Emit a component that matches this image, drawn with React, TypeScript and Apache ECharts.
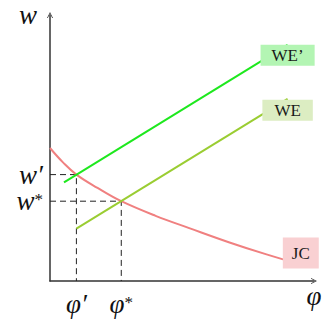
import React, { useEffect, useRef } from "react";
import * as echarts from "echarts";

// Equilibrium points
const phiPrime = 1.0;
const phiStar = 2.7;
const wPrime = 4.0;
const wStar = 3.0;

// Job creation curve (decreasing, convex)
const jcCurve: [number, number][] = [
  [0, 5.0], [0.5, 4.45], [1.0, 4.0], [1.8, 3.5], [2.7, 3.0],
  [4.0, 2.45], [5.3, 1.98], [6.8, 1.45], [8.2, 1.0], [9.5, 0.62],
];
// Wage equation lines
const wePrimeLine: [number, number][] = [[0.53, 3.71], [9.0, 8.88]];
const weLine: [number, number][] = [[1.0, 1.97], [9.0, 6.85]];

const xTickValues = [phiPrime, phiStar];
const yTickLabels = ["{m|w′}", "{m|w}{s|*}"];

const SERIF = "Liberation Serif";
const arrowPath = "path://M0,10 L5,0 L10,10 L8.6,10 L5,2.6 L1.4,10 Z";

const tickRich = {
  m: { fontFamily: SERIF, fontStyle: "italic", fontSize: 27, lineHeight: 20, color: "#111" },
  s: { fontFamily: SERIF, fontSize: 17, color: "#111", verticalAlign: "top", lineHeight: 14 },
};

function endLabel(text: string, bg: string, position: string, distance: number, padding: number[]) {
  return {
    show: true,
    formatter: text,
    position,
    distance,
    backgroundColor: bg,
    padding,
    color: "#1a1a1a",
    fontFamily: SERIF,
    fontSize: 17,
    lineHeight: 15,
  };
}

// Dashed guide from the w-axis to the intersection and down to the φ-axis,
// with the w-level named at its left end
function guide(phi: number, w: number, name: string) {
  return {
    type: "line",
    name,
    data: [
      {
        value: [0, w],
        label: { show: true, position: "left", distance: 7, formatter: name, rich: tickRich },
      },
      { value: [phi, w] },
      { value: [phi, 0] },
    ],
    showSymbol: true,
    symbol: "circle",
    symbolSize: 0,
    lineStyle: { color: "#222", width: 1, type: [6, 4] },
    silent: true,
  };
}

export default function App() {
  const ref = useRef<HTMLDivElement>(null);

  useEffect(() => {
    if (!ref.current) return;
    const chart = echarts.init(ref.current, null, { renderer: "svg" });
    const last = (arr: [number, number][]) => arr.length - 1;

    const withLabel = (arr: [number, number][], label: any) =>
      arr.map((p, i) => (i === last(arr) ? { value: p, label } : { value: p }));

    chart.setOption({
      animation: false,
      backgroundColor: "#fff",
      grid: { left: 50, right: 10, top: 15, bottom: 39 },
      xAxis: {
        type: "value",
        min: 0,
        max: 10,
        splitLine: { show: false },
        axisTick: { show: false },
        axisLine: {
          show: true,
          lineStyle: { color: "#333", width: 1.5 },
          symbol: ["none", arrowPath],
          symbolSize: [10, 6],
        },
        axisLabel: {
          customValues: xTickValues,
          hideOverlap: false,
          margin: 13,
          formatter: (v: number) => (Math.abs(v - phiPrime) < 1e-6 ? "{m|φ′}" : "{m|φ}{s|*}"),
          rich: tickRich,
        },
      },
      yAxis: {
        type: "value",
        min: 0,
        max: 10,
        splitLine: { show: false },
        axisTick: { show: false },
        axisLabel: { show: false },
        axisLine: {
          show: true,
          lineStyle: { color: "#333", width: 1.5 },
          symbol: ["none", arrowPath],
          symbolSize: [10, 6],
        },
      },
      graphic: [
        {
          type: "text",
          x: 28,
          y: 1,
          style: {
            text: "w",
            font: `italic 27px "${SERIF}"`,
            fill: "#111",
            textAlign: "center",
            textVerticalAlign: "top",
          },
        },
        {
          type: "text",
          x: 314,
          y: 282,
          style: {
            text: "φ",
            font: `italic 27px "${SERIF}"`,
            fill: "#111",
            textAlign: "center",
            textVerticalAlign: "top",
          },
        },
      ],
      series: [
        guide(phiPrime, wPrime, yTickLabels[0]),
        guide(phiStar, wStar, yTickLabels[1]),
        {
          type: "line",
          name: "JC",
          smooth: 0.4,
          data: withLabel(jcCurve, endLabel("JC", "#f9d0d2", "top", -4, [8, 9, 8, 9])),
          showSymbol: true,
          symbol: "circle",
          symbolSize: 0,
          lineStyle: { color: "#f08080", width: 2 },
        },
        {
          type: "line",
          name: "WE",
          data: withLabel(weLine, endLabel("WE", "#dcedc2", "bottom", 1, [3, 12, 3, 12])),
          showSymbol: true,
          symbol: "circle",
          symbolSize: 0,
          lineStyle: { color: "#9acd32", width: 2 },
        },
        {
          type: "line",
          name: "WE'",
          data: withLabel(wePrimeLine, endLabel("WE’", "#b3f5b3", "bottom", 0, [3, 11, 3, 11])),
          showSymbol: true,
          symbol: "circle",
          symbolSize: 0,
          lineStyle: { color: "#1ee81e", width: 2 },
        },
      ],
    });
    return () => chart.dispose();
  }, []);

  return (
    <div
      ref={ref}
      style={{ position: "fixed", left: 0, top: 0, width: 324, height: 320, background: "#fff" }}
    />
  );
}
